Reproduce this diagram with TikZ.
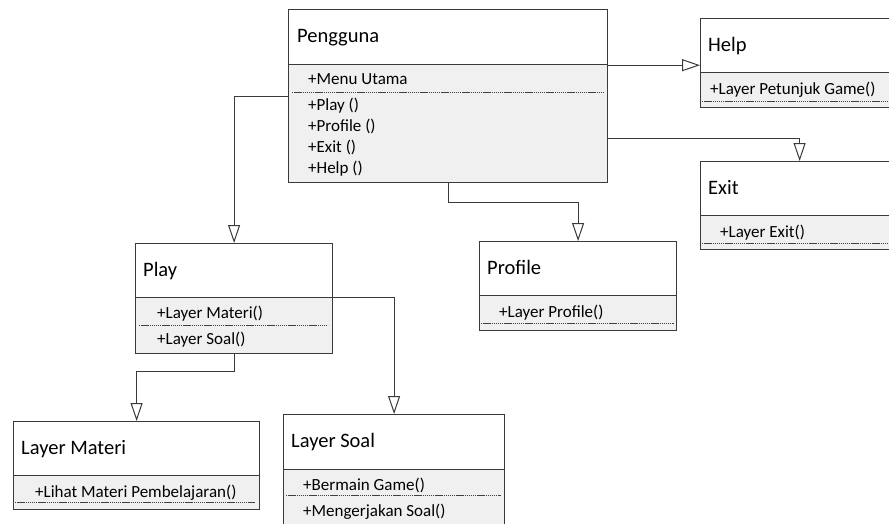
\documentclass[tikz,border=0pt]{standalone}
\usepackage{fontspec}
\setmainfont{Carlito}
\usetikzlibrary{arrows.meta}
\definecolor{edge}{HTML}{3A3A3A}
\definecolor{bodyfill}{HTML}{F0F0F0}
\definecolor{dots}{HTML}{404040}
\tikzset{
  hdr/.style={draw=edge, line width=1.2pt, fill=white, rectangle, inner sep=0pt, anchor=north west},
  bdy/.style={draw=edge, line width=1.2pt, fill=bodyfill, rectangle, inner sep=0pt, anchor=north west},
  title/.style={anchor=base west, inner sep=0pt, font=\fontsize{20.5}{24}\selectfont},
  member/.style={anchor=base west, inner sep=0pt, font=\fontsize{17}{20}\selectfont},
  sep/.style={draw=dots, line width=1pt, dash pattern=on 1.4pt off 0.7pt},
  link/.style={draw=edge, line width=1pt, -{Triangle[open, length=18pt, width=12pt]}},
}
\begin{document}
\begin{tikzpicture}[x=1pt, y=-1pt]
\useasboundingbox (0,0) rectangle (889,523);
\fill[white] (0,0) rectangle (889,523);
\clip (0,0) rectangle (889,523);

% Pengguna
\node[bdy, minimum width=319pt, minimum height=118pt] (peng-b) at (288,64) {};
\node[hdr, minimum width=319pt, minimum height=55pt] (peng-h) at (288,9) {};
\node[title] (peng-t) at (297,42) {Pengguna};
\node[member] (peng-m1) at (308,84) {+Menu Utama};
\draw[sep] (292,92) -- (603,92);
\node[member] (peng-m2) at (308,110) {+Play ()};
\node[member] (peng-m3) at (308,131) {+Profile ()};
\node[member] (peng-m4) at (308,152) {+Exit ()};
\node[member] (peng-m5) at (308,173) {+Help ()};

% Help
\node[bdy, minimum width=198pt, minimum height=35pt] (help-b) at (700,72) {};
\node[hdr, minimum width=198pt, minimum height=54pt] (help-h) at (700,18) {};
\node[title] (help-t) at (708,51) {Help};
\node[member] (help-m1) at (710,94) {+Layer Petunjuk Game()};
\draw[sep] (702,101) -- (896,101);

% Exit
\node[bdy, minimum width=198pt, minimum height=34pt] (exit-b) at (700,215) {};
\node[hdr, minimum width=198pt, minimum height=54pt] (exit-h) at (700,161) {};
\node[title] (exit-t) at (708,194) {Exit};
\node[member] (exit-m1) at (720,237) {+Layer Exit()};
\draw[sep] (702,243) -- (896,243);

% Profile
\node[bdy, minimum width=197pt, minimum height=35pt] (prof-b) at (479,295) {};
\node[hdr, minimum width=197pt, minimum height=54pt] (prof-h) at (479,241) {};
\node[title] (prof-t) at (487,274) {Profile};
\node[member] (prof-m1) at (499,317) {+Layer Profile()};
\draw[sep] (481,323) -- (674,323);

% Play
\node[bdy, minimum width=197pt, minimum height=56pt] (play-b) at (135,297) {};
\node[hdr, minimum width=197pt, minimum height=54pt] (play-h) at (135,243) {};
\node[title] (play-t) at (143,276) {Play};
\node[member] (play-m1) at (157,318) {+Layer Materi()};
\draw[sep] (139,325) -- (328,325);
\node[member] (play-m2) at (157,344) {+Layer Soal()};

% Layer Materi
\node[bdy, minimum width=246pt, minimum height=34pt] (mat-b) at (13,475) {};
\node[hdr, minimum width=246pt, minimum height=54pt] (mat-h) at (13,421) {};
\node[title] (mat-t) at (21,454) {Layer Materi};
\node[member] (mat-m1) at (35,497) {+Lihat Materi Pembelajaran()};
\draw[sep] (15,502) -- (255,502);

% Layer Soal
\node[bdy, minimum width=221pt, minimum height=71pt] (soal-b) at (283,469) {};
\node[hdr, minimum width=221pt, minimum height=55pt] (soal-h) at (283,414) {};
\node[title] (soal-t) at (291,447) {Layer Soal};
\node[member] (soal-m1) at (303,490) {+Bermain Game()};
\draw[sep] (286,495) -- (501,495);
\node[member] (soal-m2) at (303,516) {+Mengerjakan Soal()};

% Connectors
\coordinate (playrow) at (0,96);
\coordinate (exitrow) at (0,138);
\draw[link] (peng-h.south east) -- (peng-h.south east -| help-h.west);
\draw[link] (peng-b.east |- exitrow) -| (exit-h.north);
\draw[link] (peng-b.south) -- ++(0,19) -| (prof-h.north);
\draw[link] (peng-b.west |- playrow) -| (play-h.north);
\draw[link] (play-b.north east) -| (soal-h.north);
\draw[link] (play-b.south) -- ++(0,17) -| (mat-h.north);
\end{tikzpicture}
\end{document}
